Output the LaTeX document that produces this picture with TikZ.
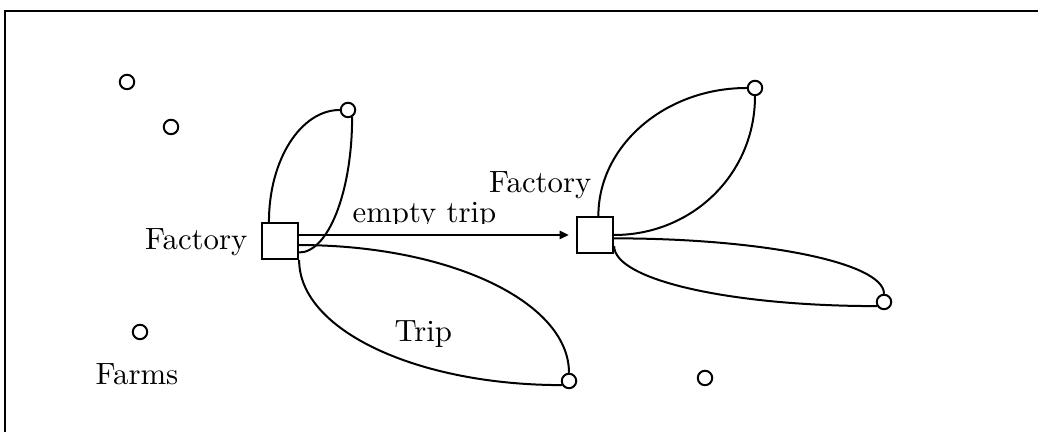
\documentclass[tikz,border=0pt]{standalone}
\usetikzlibrary{arrows.meta, positioning, calc}
\tikzset{
  factory/.style={
    rectangle,
    draw,
    line width=0.65pt,
    minimum size=11.8pt,
    inner sep=0pt
  },
  farm/.style={
    circle,
    draw,
    line width=0.65pt,
    minimum size=4.7pt,
    inner sep=0pt
  },
  label/.style={
    inner sep=0pt,
    font=\normalsize
  },
  trip/.style={line width=0.65pt},
  arrow/.style={-{Triangle[length=3pt,width=2.7pt]}, line width=0.65pt}
}
\begin{document}
\begin{tikzpicture}[x=0.325pt, y=-0.325pt]
  \useasboundingbox (0,0) rectangle (1038,432);
  % frame
  \draw[line width=0.65pt] (5,432) -- (5,11) -- (1038,11);

  % factories
  \node[factory] (sq1) at (280,241) {};
  \node[factory] (sq2) at (595,235) {};

  % farms
  \node[farm] (f1) at (127,82) {};
  \node[farm] (f2) at (171,127) {};
  \node[farm] (f3) at (348,110) {};
  \node[farm] (f4) at (140,332) {};
  \node[farm] (f5) at (569,381) {};
  \node[farm] (f6) at (705,378) {};
  \node[farm] (f7) at (755,88) {};
  \node[farm] (f8) at (884,302) {};

  % labels
  \node[label, anchor=base east] (lblF1) at (248,250) {Factory};
  \node[label, anchor=base east] (lblF2) at (592,193) {Factory};
  \node[label, anchor=base west] (lblFarms) at (95,385) {Farms};
  \node[label, anchor=base west] (lblTrip) at (394,342) {Trip};
  \begin{scope}
    \clip (340,190) rectangle (520,224);
    \node[label, anchor=base west] (lblEmpty) at (352,223) {empty trip};
  \end{scope}

  % trips from the first factory
  \draw[trip] (sq1.120) .. controls +(0,-62) and +(-39,0) .. (f3.west);
  \draw[trip] (f3.-60) .. controls +(0,75) and +(29,0) .. (sq1.-31);
  \draw[trip] (sq1.-12) .. controls +(150,0) and +(0,-71) .. (f5.north);
  \draw[trip] (sq1.south east) .. controls +(0,70) and +(-145,0) .. (f5.-150);

  % empty trip
  \draw[arrow, shorten >=2.3pt] (sq1.east |- sq2.west) -- (sq2.west);

  % trips from the second factory
  \draw[trip] (sq2.80) .. controls +(0,-70) and +(-82,0) .. (f7.west);
  \draw[trip] (f7.south) .. controls +(0,78) and +(78,0) .. (sq2.east);
  \draw[trip] (sq2.-10) .. controls +(149,0) and +(0,-31) .. (f8.north);
  \draw[trip] (sq2.-30) .. controls +(0,34) and +(-146,0) .. (f8.-150);
\end{tikzpicture}
\end{document}
